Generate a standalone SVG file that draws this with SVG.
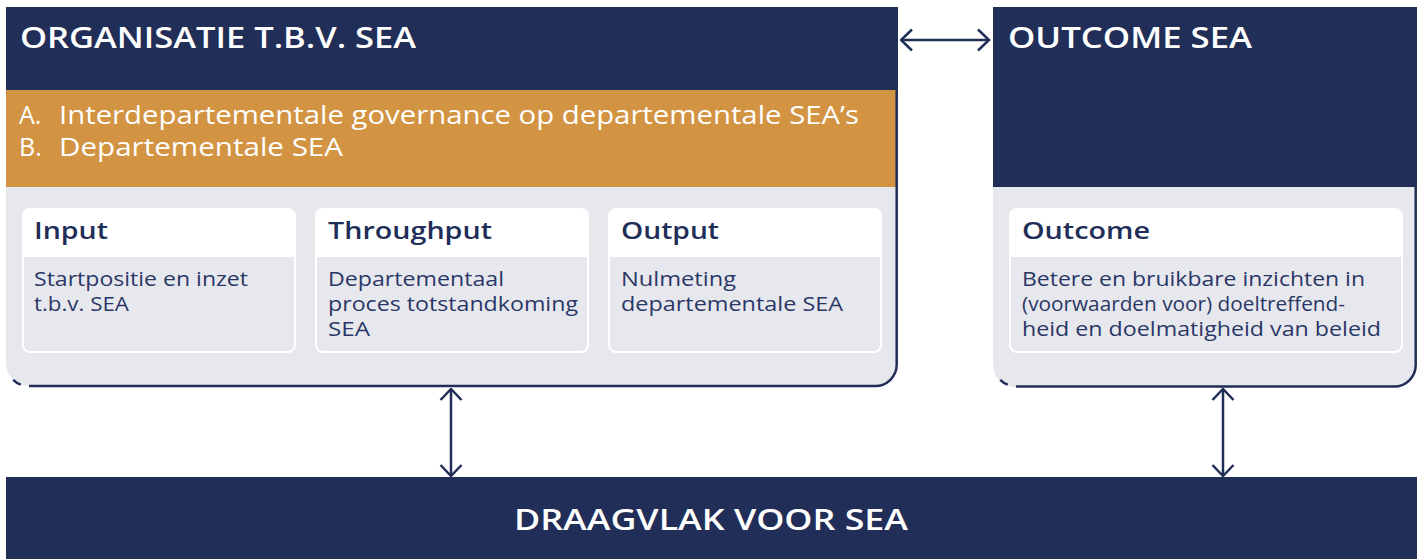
<svg xmlns="http://www.w3.org/2000/svg" width="1426" height="559" viewBox="0 0 1426 559">
  <defs>
    <style>
      .navy{fill:#212e57}
      .orange{fill:#d29442}
      .gray{fill:#e7e8ee}
      .border{fill:none;stroke:#212e57;stroke-width:2.5}
      .title{font-family:"Open Sans","Liberation Sans",sans-serif;font-weight:600;font-size:28px;fill:#ffffff}
      .band{font-family:"Open Sans","Liberation Sans",sans-serif;font-weight:400;font-size:25px;fill:#ffffff}
      .head{font-family:"Open Sans","Liberation Sans",sans-serif;font-weight:600;font-size:24px;fill:#212e57}
      .body{font-family:"Open Sans","Liberation Sans",sans-serif;font-weight:400;font-size:19.5px;fill:#2a3766}
      .card{fill:#ffffff}
      .cardbody{fill:#e7e8ee}
      .conn{fill:none;stroke:#212e57;stroke-width:2.5;marker-start:url(#chev);marker-end:url(#chev)}
    </style>
    <marker id="chev" viewBox="0 0 14 24" refX="12.5" refY="12" markerWidth="14" markerHeight="24" markerUnits="userSpaceOnUse" orient="auto-start-reverse">
      <path d="M1.5,1.5 L12.5,12 L1.5,22.5" fill="none" stroke="#212e57" stroke-width="2.5"/>
    </marker>
  </defs>

  <g id="organisatie">
    <rect class="navy" x="6" y="7" width="892" height="83"/>
    <rect class="orange" x="6" y="90" width="890" height="97"/>
    <path class="gray" d="M6,187 H896 V364 A22,22 0 0 1 874,386 H28 A22,22 0 0 1 6,364 Z"/>
    <path class="border" d="M29,386 H875 A21.5,21.5 0 0 0 896.7,364.5 V7"/>
    <path class="border" d="M13.2,379.8 A21,21 0 0 0 20.8,384.7"/>
    <text class="title" x="20" y="48" textLength="396" lengthAdjust="spacingAndGlyphs">ORGANISATIE T.B.V. SEA</text>
    <text class="band" x="19" y="124">A.</text>
    <text class="band" x="59" y="124" textLength="800" lengthAdjust="spacingAndGlyphs">Interdepartementale governance op departementale SEA’s</text>
    <text class="band" x="19" y="156">B.</text>
    <text class="band" x="59" y="156" textLength="284" lengthAdjust="spacingAndGlyphs">Departementale SEA</text>
  </g>

  <g id="input">
    <rect class="card" x="22" y="208" width="274" height="145" rx="8"/>
    <path class="cardbody" d="M24,257 H294 V345 A6,6 0 0 1 288,351 H30 A6,6 0 0 1 24,345 Z"/>
    <text class="head" x="34" y="239" textLength="74" lengthAdjust="spacingAndGlyphs">Input</text>
    <text class="body" x="34" y="286" textLength="214" lengthAdjust="spacingAndGlyphs">Startpositie en inzet</text>
    <text class="body" x="34" y="311" textLength="95" lengthAdjust="spacingAndGlyphs">t.b.v. SEA</text>
  </g>

  <g id="throughput">
    <rect class="card" x="315" y="208" width="274" height="145" rx="8"/>
    <path class="cardbody" d="M317,257 H587 V345 A6,6 0 0 1 581,351 H323 A6,6 0 0 1 317,345 Z"/>
    <text class="head" x="328" y="239" textLength="164" lengthAdjust="spacingAndGlyphs">Throughput</text>
    <text class="body" x="328" y="286" textLength="176" lengthAdjust="spacingAndGlyphs">Departementaal</text>
    <text class="body" x="328" y="311" textLength="250" lengthAdjust="spacingAndGlyphs">proces totstandkoming</text>
    <text class="body" x="328" y="336" textLength="42" lengthAdjust="spacingAndGlyphs">SEA</text>
  </g>

  <g id="output">
    <rect class="card" x="608" y="208" width="274" height="145" rx="8"/>
    <path class="cardbody" d="M610,257 H880 V345 A6,6 0 0 1 874,351 H616 A6,6 0 0 1 610,345 Z"/>
    <text class="head" x="621" y="239" textLength="98" lengthAdjust="spacingAndGlyphs">Output</text>
    <text class="body" x="621" y="286" textLength="115" lengthAdjust="spacingAndGlyphs">Nulmeting</text>
    <text class="body" x="621" y="311" textLength="222" lengthAdjust="spacingAndGlyphs">departementale SEA</text>
  </g>

  <g id="outcome-sea">
    <rect class="navy" x="993" y="7" width="424" height="180"/>
    <path class="gray" d="M993,187 H1415 V365 A22,22 0 0 1 1393,387 H1015 A22,22 0 0 1 993,365 Z"/>
    <path class="border" d="M1016,386.5 H1394 A21.5,21.5 0 0 0 1415.7,365 V7"/>
    <path class="border" d="M1000.2,379.8 A21,21 0 0 0 1007.8,384.7"/>
    <text class="title" x="1008" y="48" textLength="244" lengthAdjust="spacingAndGlyphs">OUTCOME SEA</text>
  </g>

  <g id="outcome">
    <rect class="card" x="1009" y="208" width="394" height="145" rx="8"/>
    <path class="cardbody" d="M1011,257 H1401 V345 A6,6 0 0 1 1395,351 H1017 A6,6 0 0 1 1011,345 Z"/>
    <text class="head" x="1022" y="239" textLength="128" lengthAdjust="spacingAndGlyphs">Outcome</text>
    <text class="body" x="1022" y="286" textLength="343" lengthAdjust="spacingAndGlyphs">Betere en bruikbare inzichten in</text>
    <text class="body" x="1022" y="311" textLength="323" lengthAdjust="spacingAndGlyphs">(voorwaarden voor) doeltreffend-</text>
    <text class="body" x="1022" y="336" textLength="359" lengthAdjust="spacingAndGlyphs">heid en doelmatigheid van beleid</text>
  </g>

  <g id="draagvlak">
    <rect class="navy" x="6" y="477" width="1411" height="82"/>
    <text class="title" x="514" y="530" textLength="394" lengthAdjust="spacingAndGlyphs">DRAAGVLAK VOOR SEA</text>
  </g>

  <g id="connectors">
    <line class="conn" x1="901" y1="40" x2="989" y2="40"/>
    <line class="conn" x1="451" y1="389" x2="451" y2="476"/>
    <line class="conn" x1="1223" y1="389" x2="1223" y2="476"/>
  </g>
</svg>
